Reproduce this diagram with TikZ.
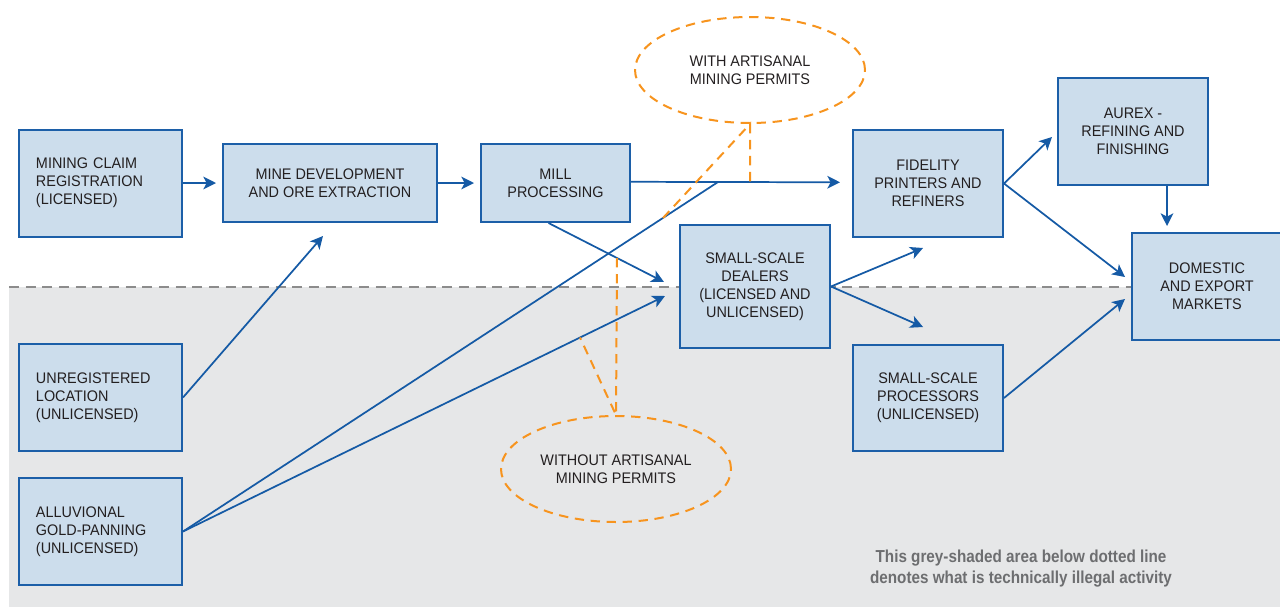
\documentclass[tikz,border=0pt]{standalone}
\usepackage{fontspec}
\setmainfont{Liberation Sans}[FakeStretch=0.94]
\newfontfamily\notefont{Liberation Sans}[FakeStretch=0.88]
\usetikzlibrary{arrows.meta,shapes.geometric}

\definecolor{boxfill}{HTML}{CCDDEC}
\definecolor{boxline}{HTML}{1C5FA8}
\definecolor{flowblue}{HTML}{155AA5}
\definecolor{ink}{HTML}{231F20}
\definecolor{illegal}{HTML}{E6E7E8}
\definecolor{divider}{HTML}{8C8C8C}
\definecolor{permit}{HTML}{F7941E}
\definecolor{notegrey}{HTML}{6D6E70}

\tikzset{
  box/.style={draw=boxline, fill=boxfill, line width=1.5pt, text=ink,
    inner sep=0pt, font=\fontsize{11.5}{13.5}\selectfont},
  lbox/.style={box, minimum width=122.25pt, minimum height=80.25pt,
    text width=96.75pt, align=left},
  cbox/.style={box, align=center},
  flow/.style={draw=flowblue, line width=1.3pt,
    -{Stealth[length=9.5pt,width=9.5pt,inset=2.5pt]}},
  link/.style={draw=flowblue, line width=1.3pt},
  bubble/.style={ellipse, draw=permit, line width=1.5pt,
    dash pattern=on 7pt off 5pt, minimum width=172.5pt, minimum height=79.5pt,
    inner sep=0pt, align=center, text=ink, font=\fontsize{11.5}{13.5}\selectfont},
  pointer/.style={draw=permit, line width=1.5pt, dash pattern=on 7pt off 5pt},
  note/.style={text=notegrey, align=center,
    font=\notefont\bfseries\fontsize{13}{15.75}\selectfont},
}

\begin{document}
\begin{tikzpicture}[x=0.75pt,y=-0.75pt]
\useasboundingbox (0,0) rectangle (1280,607);

% shaded zone of illegal activity and its boundary
\fill[illegal] (9,287) rectangle (1280,607);
\draw[divider, line width=1.5pt, dash pattern=on 7.5pt off 5pt] (9,287) -- (1132,287);

% process boxes
\node[lbox] (claim) at (100.5,183) {MINING CLAIM\\REGISTRATION\\(LICENSED)};
\node[cbox, minimum width=160.5pt, minimum height=58.5pt] (mine) at (330,183)
  {MINE DEVELOPMENT\\AND ORE EXTRACTION};
\node[cbox, minimum width=111.75pt, minimum height=58.5pt] (mill) at (555.5,183)
  {MILL\\PROCESSING};
\node[cbox, minimum width=112.5pt, minimum height=80.25pt] (fid) at (928,183.5)
  {FIDELITY\\PRINTERS AND\\REFINERS};
\node[cbox, minimum width=112.5pt, minimum height=80.25pt] (aurex) at (1133,131.5)
  {AUREX -\\REFINING AND\\FINISHING};
\node[cbox, minimum width=112.5pt, minimum height=80.25pt] (dom) at (1207,286.5)
  {DOMESTIC\\AND EXPORT\\MARKETS};
\node[cbox, minimum width=112.5pt, minimum height=92.25pt] (dealers) at (755,286.5)
  {SMALL-SCALE\\DEALERS\\(LICENSED AND\\UNLICENSED)};
\node[cbox, minimum width=112.5pt, minimum height=79.5pt] (proc) at (928,398)
  {SMALL-SCALE\\PROCESSORS\\(UNLICENSED)};
\node[lbox] (unreg) at (100.5,397.5) {UNREGISTERED\\LOCATION\\(UNLICENSED)};
\node[lbox] (alluv) at (100.5,531.5) {ALLUVIONAL\\GOLD-PANNING\\(UNLICENSED)};

% arrow targets and junctions
\coordinate (mineIn) at (323,236);
\coordinate (junction) at (718,182);
\coordinate (dealIn1) at (664,282);
\coordinate (dealIn2) at (665,296);
\coordinate (fidIn) at (923,248);
\coordinate (procIn) at (923,327);
\coordinate (aurexIn) at (1052,137);
\coordinate (domIn1) at (1125,277);
\coordinate (domIn2) at (1167,226);
\coordinate (domIn3) at (1125,299);

% flows
\draw[flow, shorten >=4.5pt] (claim) -- (mine);
\draw[flow, shorten >=4.5pt] (mine) -- (mill);
\draw[flow, shorten >=9pt] ([yshift=0.9pt]mill.east) -- ([yshift=0.9pt]fid.west);
\draw[flow] (unreg.east) -- (mineIn);
\draw[link] (alluv.east) -- (junction);
\draw[flow] (alluv.east) -- (dealIn2);
\draw[flow] ([xshift=-5.25pt]mill.south) -- (dealIn1);
\draw[flow] (dealers.east) -- (fidIn);
\draw[flow] (dealers.east) -- (procIn);
\draw[flow] (fid.east) -- (aurexIn);
\draw[flow] (fid.east) -- (domIn1);
\draw[flow] (aurex.south -| domIn2) -- (domIn2);
\draw[flow] (proc.east) -- (domIn3);

% permit call-outs
\node[bubble] (withE) at (750,70) {WITH ARTISANAL\\MINING PERMITS};
\node[bubble] (withoutE) at (616,469) {WITHOUT ARTISANAL\\MINING PERMITS};
\coordinate (p1) at (663,218);
\coordinate (p2) at (750,182);
\coordinate (p3) at (617,258);
\coordinate (p4) at (580,337.5);
\draw[pointer] (p1) -- (withE.south) -- (p2);
\draw[pointer] (p3) -- (withoutE.north) -- (p4);

% legend
\node[note] (legend) at (1021,569)
  {This grey-shaded area below dotted line\\denotes what is technically illegal activity};
\end{tikzpicture}
\end{document}
